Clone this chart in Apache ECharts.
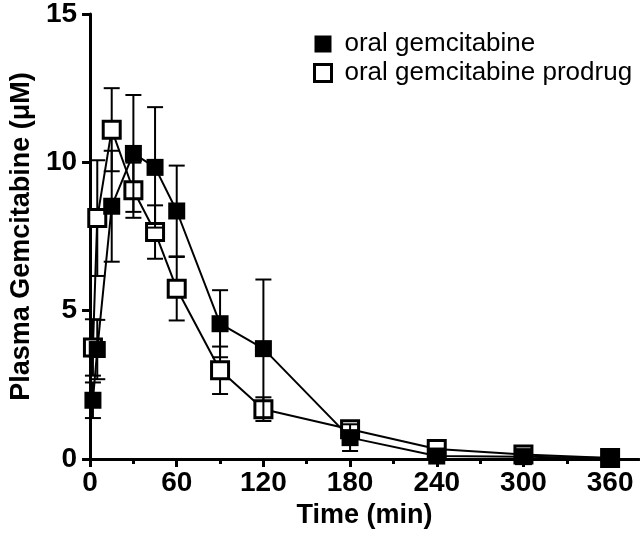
<!DOCTYPE html>
<html>
<head>
<meta charset="utf-8">
<script src="https://cdn.jsdelivr.net/npm/echarts@6/dist/echarts.min.js"></script>
<style>
html,body{margin:0;padding:0;background:#fff;}
#chart{width:640px;height:538px;}
</style>
</head>
<body>
<div id="chart"></div>
<script>
// ---- data ----
const times = [2, 5, 15, 30, 45, 60, 90, 120, 180, 240, 300, 360];
const oralMean = [1.98, 3.69, 8.52, 10.3, 9.83, 8.36, 4.56, 3.72, 0.72, 0.1, 0.08, 0.03];
const oralSD   = [0.6, 1.0, 1.87, 1.97, 2.03, 1.53, 1.13, 2.33, 0.45, 0.1, 0.05, 0.02];
const prodMean = [3.76, 8.12, 11.1, 9.06, 7.65, 5.74, 2.99, 1.68, 1.0, 0.34, 0.15, 0.03];
const prodSD   = [0.95, 1.95, 1.4, 0.93, 0.9, 1.07, 0.8, 0.4, 0.27, 0.1, 0.05, 0.02];
const xMajorTicks = [0, 60, 120, 180, 240, 300, 360];
const xMinorTicks = [30, 90, 150, 210, 270, 330];
const seriesNames = ['oral gemcitabine', 'oral gemcitabine prodrug'];

const tickFont = '"Liberation Sans Narrow", "Liberation Sans", Arial, sans-serif';
const mainFont = '"Liberation Sans", Arial, sans-serif';

function pairs(t, m) { return t.map((x, i) => [x, m[i]]); }
function errData(t, m, s) { return t.map((x, i) => [x, Math.max(0, m[i] - s[i]), m[i] + s[i]]); }

function renderErr(params, api) {
  const x = api.value(0), lo = api.value(1), hi = api.value(2);
  const a = api.coord([x, lo]), b = api.coord([x, hi]);
  const w = 8;
  const st = { stroke: '#000', lineWidth: 2 };
  return {
    type: 'group',
    children: [
      { type: 'line', shape: { x1: a[0], y1: a[1], x2: b[0], y2: b[1] }, style: st },
      { type: 'line', shape: { x1: a[0] - w, y1: a[1], x2: a[0] + w, y2: a[1] }, style: st },
      { type: 'line', shape: { x1: b[0] - w, y1: b[1], x2: b[0] + w, y2: b[1] }, style: st }
    ]
  };
}

const chart = echarts.init(document.getElementById('chart'), null, { renderer: 'canvas' });
chart.setOption({
  animation: false,
  backgroundColor: '#fff',
  grid: { left: 90, right: 1, top: 11, bottom: 79, containLabel: false },
  legend: {
    orient: 'vertical',
    left: 308, top: 26,
    itemWidth: 17, itemHeight: 17, itemGap: 3,
    selectedMode: false,
    textStyle: { fontFamily: mainFont, fontSize: 26, color: '#000', padding: [0, 0, 0, 8] },
    data: [
      { name: seriesNames[0], icon: 'rect', itemStyle: { color: '#000', borderWidth: 0 } },
      { name: seriesNames[1], icon: 'rect', itemStyle: { color: '#fff', borderColor: '#000', borderWidth: 3 } }
    ]
  },
  xAxis: [{
    type: 'value', min: 0, max: 380, position: 'bottom',
    name: 'Time (min)', nameLocation: 'middle', nameGap: 37,
    nameTextStyle: { fontFamily: mainFont, fontWeight: 'bold', fontSize: 27, color: '#000' },
    axisLine: { show: true, onZero: false, lineStyle: { color: '#000', width: 3 } },
    axisTick: { show: true, length: 8, lineStyle: { color: '#000', width: 3 }, customValues: xMajorTicks },
    axisLabel: { margin: 10, fontFamily: tickFont, fontWeight: 'bold', fontSize: 28, color: '#000', customValues: xMajorTicks },
    splitLine: { show: false }
  }, {
    type: 'value', min: 0, max: 380, position: 'bottom', gridIndex: 0,
    axisLine: { show: false },
    axisTick: { show: true, length: 5, lineStyle: { color: '#000', width: 3 }, customValues: xMinorTicks },
    axisLabel: { show: false },
    splitLine: { show: false }
  }],
  yAxis: {
    type: 'value', min: 0, max: 15, interval: 5,
    name: 'Plasma Gemcitabine (\u03BCM)', nameLocation: 'middle', nameGap: 54, nameRotate: 90,
    nameTextStyle: { fontFamily: mainFont, fontWeight: 'bold', fontSize: 27, color: '#000' },
    axisLine: { show: true, onZero: false, lineStyle: { color: '#000', width: 3 } },
    axisTick: { show: true, length: 8, lineStyle: { color: '#000', width: 3 } },
    axisLabel: { margin: 13, fontFamily: tickFont, fontWeight: 'bold', fontSize: 28, color: '#000' },
    splitLine: { show: false }
  },
  series: [
    {
      type: 'custom', name: seriesNames[1] + ' err', renderItem: renderErr,
      data: errData(times, prodMean, prodSD), encode: { x: 0, y: [1, 2] }, z: 1, silent: true
    },
    {
      type: 'line', name: seriesNames[1], data: pairs(times, prodMean), z: 2,
      symbol: 'rect', symbolSize: 17, showAllSymbol: true,
      lineStyle: { color: '#000', width: 2 },
      itemStyle: { color: '#fff', borderColor: '#000', borderWidth: 3 },
      emphasis: { disabled: true }
    },
    {
      type: 'custom', name: seriesNames[0] + ' err', renderItem: renderErr,
      data: errData(times, oralMean, oralSD), encode: { x: 0, y: [1, 2] }, z: 3, silent: true
    },
    {
      type: 'line', name: seriesNames[0], data: pairs(times, oralMean), z: 4,
      symbol: 'rect', symbolSize: 17, showAllSymbol: true,
      lineStyle: { color: '#000', width: 2 },
      itemStyle: { color: '#000', borderColor: '#000', borderWidth: 0 },
      emphasis: { disabled: true }
    }
  ]
});
</script>
</body>
</html>
